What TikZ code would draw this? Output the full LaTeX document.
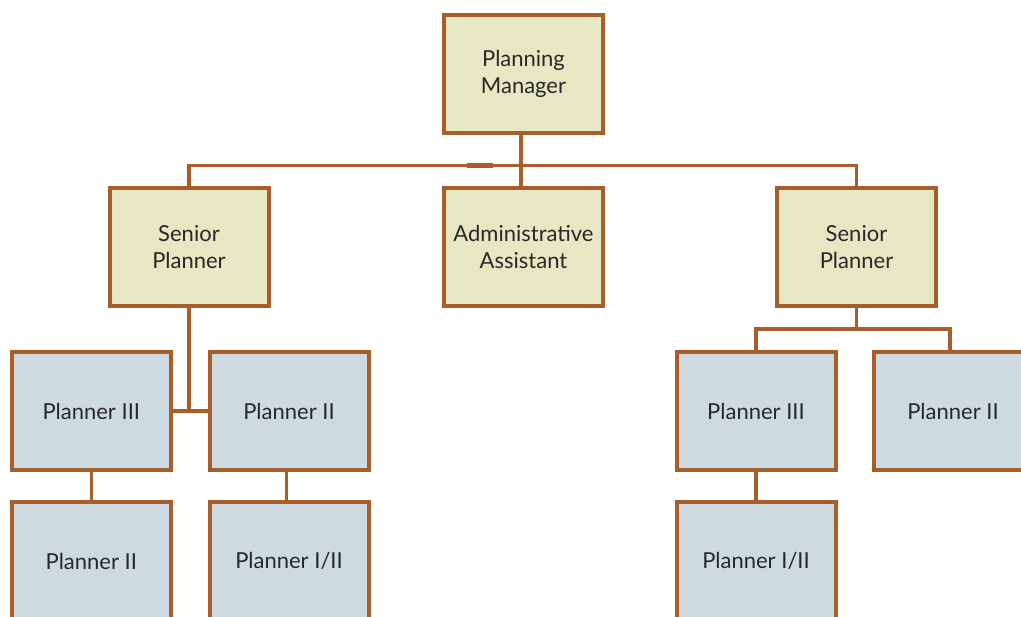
\documentclass[tikz,border=0pt]{standalone}
\usepackage{fontspec}
\setmainfont{Lato}
\usetikzlibrary{calc}
\definecolor{edge}{RGB}{166,94,42}
\definecolor{mgmt}{RGB}{229,232,194}
\definecolor{staff}{RGB}{205,218,226}
\definecolor{ink}{RGB}{40,40,40}
\tikzset{
  unit/.style={rectangle, draw=edge, line width=4pt, minimum width=159pt,
    minimum height=118pt, inner sep=0pt, align=center, text=ink,
    font=\fontsize{22}{27}\selectfont},
  lead/.style={unit, fill=mgmt},
  crew/.style={unit, fill=staff},
  link/.style={draw=edge, line width=3.4pt}
}
\begin{document}
\begin{tikzpicture}[x=1pt, y=-1pt]
  \clip (0,0) rectangle (1021,617);
  \fill[white] (0,0) rectangle (1021,617);

  % top level
  \node[lead] (pm)  at (523.5,74)  {Planning\\Manager};
  % second level
  \node[lead] (sp1) at (189,247)   {Senior\\Planner};
  \node[lead] (adm) at (523.5,247) {Administrative\\Assistant};
  \node[lead] (sp2) at (856.5,247) {Senior\\Planner};
  % third level
  \node[crew] (p3l) at (91.3,411)  {Planner III};
  \node[crew] (p2l) at (289,411)   {Planner II};
  \node[crew] (p3r) at (756,411)   {Planner III};
  \node[crew] (p2r) at (953,411)   {Planner II};
  % fourth level
  \node[crew] (p2b) at (91.3,561)  {Planner II};
  \node[crew] (p1l) at (289,561)   {Planner I/II};
  \node[crew] (p1r) at (756,561)   {Planner I/II};

  % connectors from the manager
  \coordinate (bus) at ($(pm.south)+(-2.5,30.5)$);
  \draw[link] ($(pm.south)+(-2.5,0)$) -- (bus);
  \draw[link] (sp1.north) |- (bus) -| (sp2.north);
  \draw[link] ($(adm.north)+(-2.5,0)$) -- (bus);
  \draw[edge, line width=5pt] ($(bus)+(-54.5,0)$) -- ($(bus)+(-28,0)$);

  % left branch
  \draw[link] (sp1.south) -- (sp1.south |- p3l.east);
  \draw[link] (p3l.east) -- (p2l.west);
  \draw[link] (p3l.south) -- (p2b.north);
  \draw[link] ([xshift=-2.5pt]p2l.south) -- ([xshift=-2.5pt]p1l.north);

  % right branch
  \coordinate (rb) at ($(sp2.south)+(0,21)$);
  \draw[link] (sp2.south) -- (rb);
  \draw[link] (p3r.north) |- (rb) -| ([xshift=-3pt]p2r.north);
  \draw[link] (p3r.south) -- (p1r.north);
\end{tikzpicture}
\end{document}
